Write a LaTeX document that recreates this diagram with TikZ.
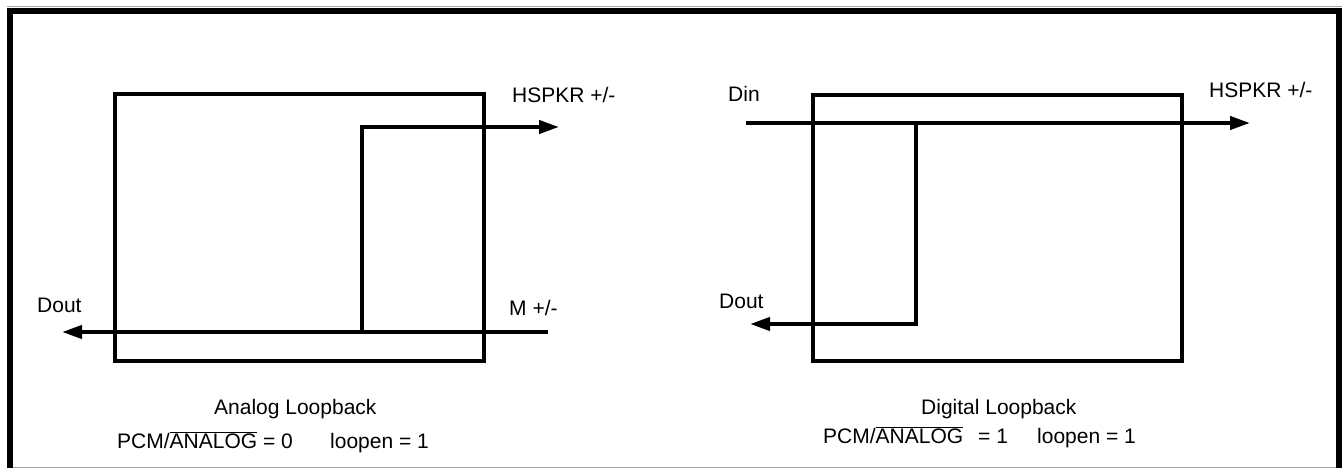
\documentclass[tikz,border=0pt]{standalone}
\usepackage{fontspec}
\setmainfont{Liberation Sans}
\usetikzlibrary{arrows.meta}

\tikzset{
    lbl/.style={anchor=base west, inner sep=0pt, font=\fontsize{21}{25}\selectfont},
    wire/.style={line width=4pt},
    sig/.style={wire, -{Triangle[length=20pt, width=13pt]}},
}

\begin{document}
\begin{tikzpicture}[x=1pt, y=-1pt]

\useasboundingbox (0,0) rectangle (1344,468);

% frame
\draw[black!35, line width=1pt] (7,7) -- (1342,7);
\draw[black!35, line width=1pt] (10,467) -- (1339,467);
\draw[line width=6pt] (10,468) -- (10,11) -- (1339,11) -- (1339,468);

% analog loopback
\coordinate (boxA1) at (115,94);
\coordinate (boxA2) at (484,361);
\draw[wire] (boxA1) rectangle (boxA2);

\coordinate (minA) at (548,332);
\coordinate (doutA) at (62,332);
\coordinate (tapA) at (362,332);
\coordinate (hspkrA) at (559,127);
\draw[sig] (minA) -- (doutA);
\draw[sig] (tapA) |- (hspkrA);

\node[lbl] (hspkrAlbl) at (512,103) {HSPKR +/-};
\node[lbl] (doutAlbl) at (37,312) {Dout};
\node[lbl] (minAlbl) at (509,315) {M +/-};
\node[lbl] (titleA) at (214,414) {Analog Loopback};
\node[lbl] (modeA) at (117,448) {PCM/$\overline{\mbox{ANALOG}}$ = 0};
\node[lbl] (loopA) at (330,448) {loopen = 1};

% digital loopback
\coordinate (boxB1) at (813,95);
\coordinate (boxB2) at (1182,361);
\draw[wire] (boxB1) rectangle (boxB2);

\coordinate (dinB) at (746,123);
\coordinate (hspkrB) at (1250,123);
\coordinate (tapB) at (916,123);
\coordinate (doutB) at (750,324);
\draw[sig] (dinB) -- (hspkrB);
\draw[sig] (tapB) |- (doutB);

\node[lbl] (dinlbl) at (728,102) {Din};
\node[lbl] (hspkrBlbl) at (1209,98) {HSPKR +/-};
\node[lbl] (doutBlbl) at (719,308) {Dout};
\node[lbl] (titleB) at (921,414) {Digital Loopback};
\node[lbl] (modeB) at (823,443) {PCM/$\overline{\mbox{ANALOG}}$\hspace{15pt}= 1};
\node[lbl] (loopB) at (1037,443) {loopen = 1};

\end{tikzpicture}
\end{document}
